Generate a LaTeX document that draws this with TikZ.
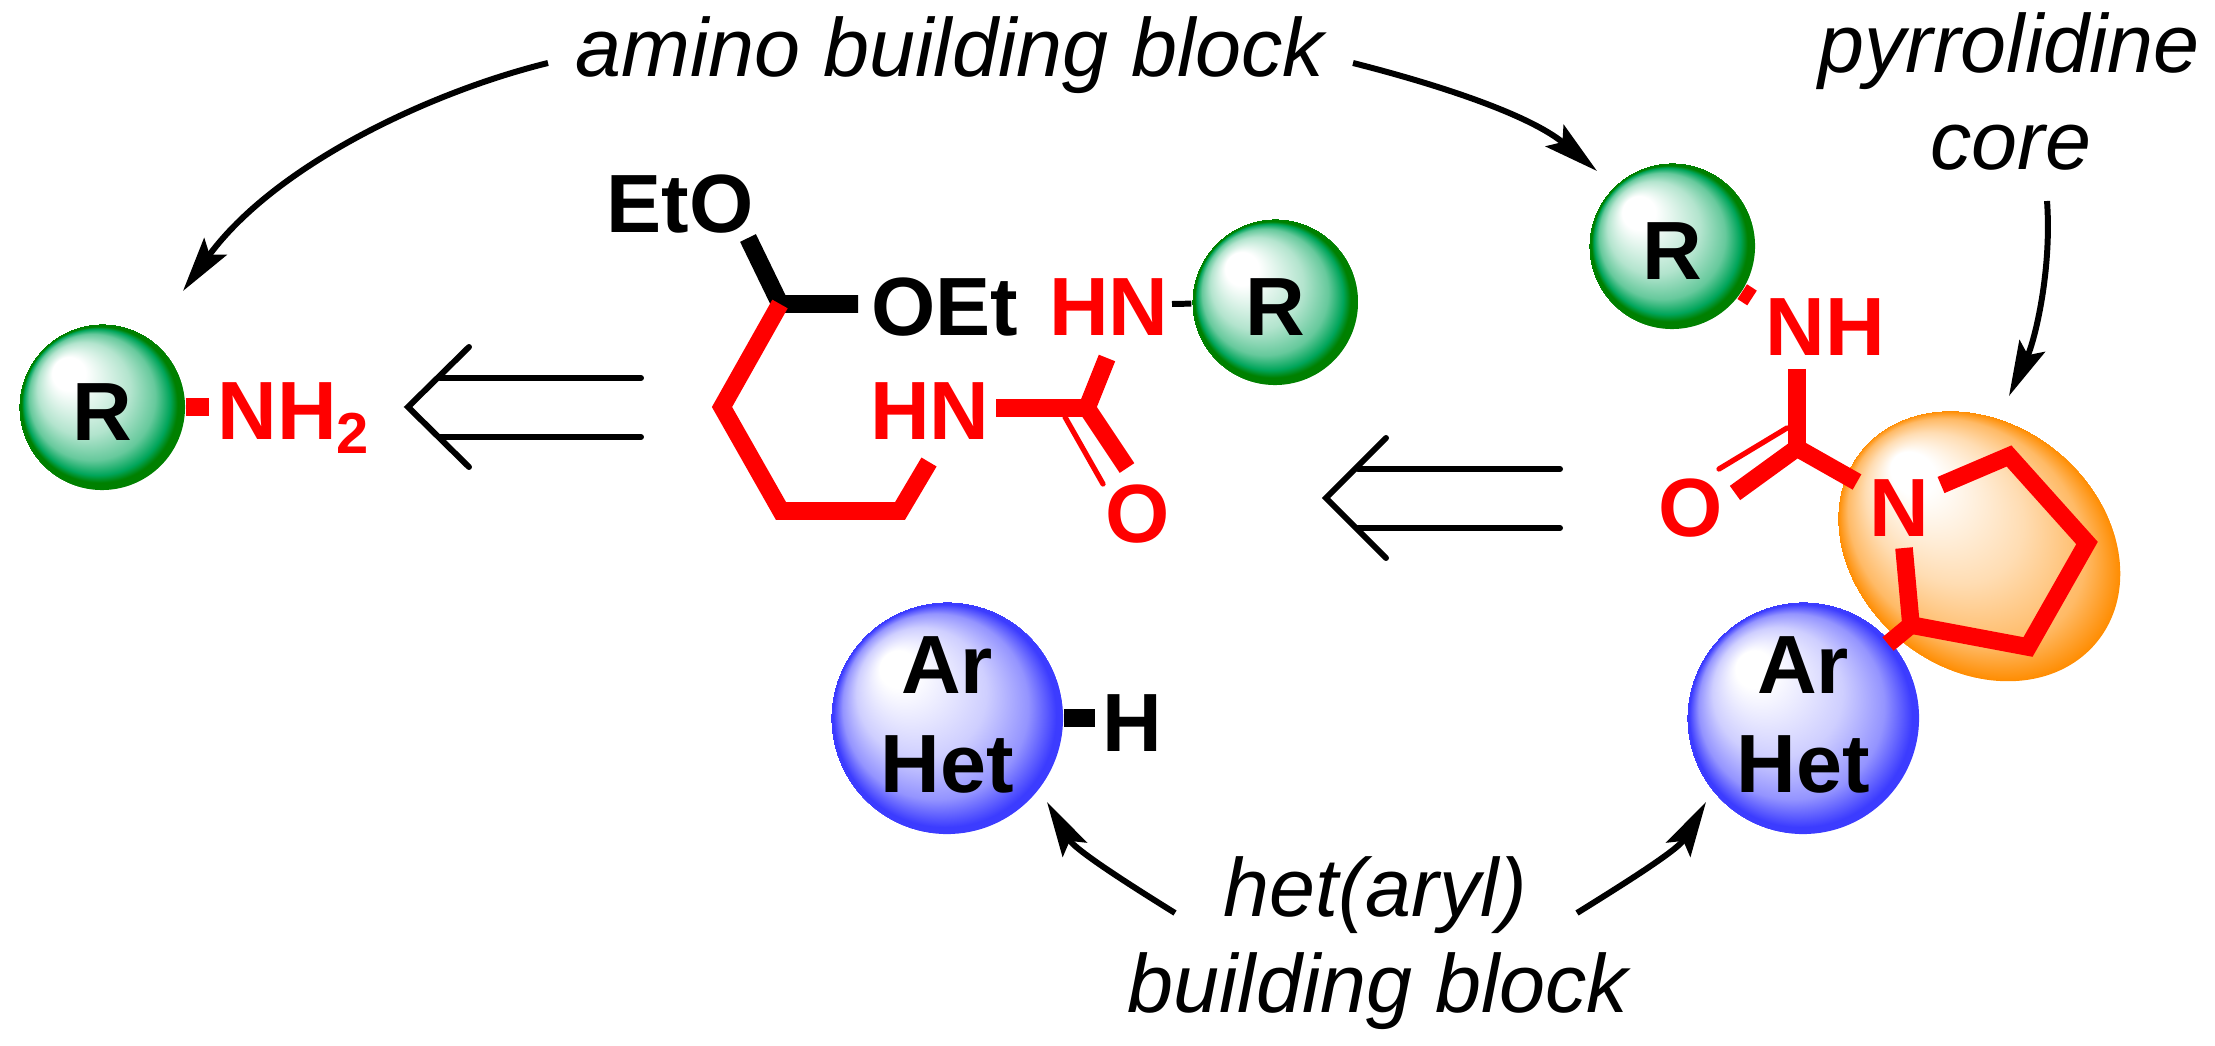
\documentclass[tikz,border=0pt]{standalone}
\usepackage{fontspec}
\setmainfont{Liberation Sans}
\usetikzlibrary{arrows.meta}
\definecolor{ringred}{RGB}{255,0,0}
\definecolor{rimgreen}{RGB}{0,128,0}
\definecolor{midgreen}{RGB}{0,165,90}
\definecolor{rimblue}{RGB}{60,60,255}
\definecolor{rimorange}{RGB}{255,140,0}
\pgfdeclareradialshading{greenball}{\pgfpoint{-12.5bp}{12.5bp}}{color(0bp)=(white);color(5bp)=(white);color(14bp)=(midgreen!30!white);color(19bp)=(midgreen!60!white);color(22bp)=(midgreen);color(23.5bp)=(rimgreen);color(25bp)=(rimgreen)}
\pgfdeclareradialshading{blueball}{\pgfpoint{-12.5bp}{12.5bp}}{color(0bp)=(white);color(4bp)=(white);color(14bp)=(rimblue!25!white);color(20bp)=(rimblue!55!white);color(24bp)=(rimblue);color(25bp)=(rimblue)}
\pgfdeclareradialshading{coreball}{\pgfpoint{-19bp}{3.6bp}}{color(0bp)=(white);color(4bp)=(white);color(14bp)=(rimorange!30!white);color(21bp)=(rimorange!60!white);color(25bp)=(rimorange)}
\tikzset{
  rball/.style={circle,draw=none,shading=greenball,minimum size=1.66cm,inner sep=0pt,font=\bfseries\fontsize{23.5}{28.2}\selectfont,text height=0.66cm,text depth=0pt},
  hetball/.style={circle,draw=none,shading=blueball,minimum size=2.32cm,inner sep=0pt,align=center,font=\bfseries\fontsize{23.5}{28.2}\selectfont,text depth=0.07cm},
  atom/.style={inner sep=0pt,anchor=base,font=\bfseries\fontsize{23.5}{28.2}\selectfont},
  redatom/.style={atom,text=ringred},
  lbl/.style={inner sep=0pt,anchor=base,font=\itshape\fontsize{23.5}{28.2}\selectfont},
  bond/.style={line width=5pt},
  redbond/.style={bond,ringred,line join=miter},
  thinbond/.style={ringred,line width=1.5pt,line cap=round},
  retro/.style={line width=1.7pt,line cap=round},
  curved/.style={line width=1.7pt,-{Stealth[length=5.5mm,width=2.8mm,inset=1mm]}}
}
\begin{document}
\begin{tikzpicture}[x=0.01cm,y=-0.01cm]
\useasboundingbox (0,0) rectangle (2215,1046);
% pyrrolidine core
\begin{scope}[transform canvas={rotate around={-39:(1979,546)}}]
\shade[shading=coreball] (1979,546) ellipse (152 and 123);
\end{scope}
% balls
\node[rball] (rone) at (102,407) {R};
\node[rball] (rtwo) at (1275,302) {R};
\node[rball] (rthree) at (1672,246) {R};
\node[hetball] (hetone) at (947,718) {Ar\\Het};
\node[hetball] (hettwo) at (1803,718) {Ar\\Het};
% labels
\node[lbl] (amino) at (950,77) {amino building block};
\node[lbl] (pyrr) at (2009,73) {pyrrolidine};
\node[lbl] (core) at (2011,170) {core};
\node[lbl] (hetaryl) at (1375,916) {het(aryl)};
\node[lbl] (build) at (1378,1012) {building block};
% atoms
\node[redatom] (nhtwo) at (294,440) {NH\textsubscript{2}};
\node[atom] (eto) at (680,233) {EtO};
\node[atom] (oet) at (945,336) {OEt};
\node[redatom] (hnup) at (1109,336) {HN};
\node[redatom] (hnlow) at (930,440) {HN};
\node[redatom] (oone) at (1138,542) {O};
\node[redatom] (nhright) at (1825,356) {NH};
\node[redatom] (otwo) at (1691,536) {O};
\node[redatom] (nring) at (1899,536) {N};
\node[atom] (hatom) at (1132,751) {H};
% retro arrows
\coordinate (retroatip) at (408,407);
\coordinate (retroaup) at (469,347);
\coordinate (retroadown) at (469,467);
\coordinate (retroaone) at (440,378);
\coordinate (retroatwo) at (440,437);
\coordinate (retroaoneend) at (641,378);
\coordinate (retroatwoend) at (641,437);
\draw[retro] (retroaup) -- (retroatip) -- (retroadown);
\draw[retro] (retroaone) -- (retroaoneend);
\draw[retro] (retroatwo) -- (retroatwoend);
\coordinate (retrobtip) at (1326,498);
\coordinate (retrobup) at (1386,438);
\coordinate (retrobdown) at (1386,558);
\coordinate (retrobone) at (1358,469);
\coordinate (retrobtwo) at (1358,528);
\coordinate (retroboneend) at (1560,469);
\coordinate (retrobtwoend) at (1560,528);
\draw[retro] (retrobup) -- (retrobtip) -- (retrobdown);
\draw[retro] (retrobone) -- (retroboneend);
\draw[retro] (retrobtwo) -- (retrobtwoend);
% open chain
\coordinate (acetal) at (780,304);
\coordinate (etoend) at (748,238);
\coordinate (oetend) at (858,304);
\coordinate (ctwo) at (722,407);
\coordinate (cthree) at (781,511);
\coordinate (cfour) at (900,511);
\coordinate (hnend) at (929,462);
\coordinate (urea) at (1087,408);
\coordinate (ureaw) at (996,408);
\coordinate (ureaup) at (1107,358);
\coordinate (ureaox) at (1127,468);
\coordinate (thina) at (1065,417);
\coordinate (thinb) at (1103,484);
\coordinate (thinr) at (1172,304);
\draw[bond] (etoend) -- (acetal) -- (oetend);
\draw[redbond] (acetal) -- (ctwo) -- (cthree) -- (cfour) -- (hnend);
\draw[redbond] (ureaw) -- (urea) -- (ureaup);
\draw[redbond] (urea) -- (ureaox);
\draw[thinbond] (thina) -- (thinb);
\draw[line width=1.7pt] (thinr) -- (rtwo);
% other bonds
\coordinate (nhtwoend) at (209,407);
\coordinate (hend) at (1095,718);
\draw[redbond] (rone) -- (nhtwoend);
\draw[bond] (hetone) -- (hend);
% right urea and ring
\coordinate (rthreeend) at (1752,298);
\coordinate (nhbelow) at (1797,369);
\coordinate (ureab) at (1797,448);
\coordinate (ureabox) at (1735,493);
\coordinate (ureabn) at (1857,482);
\coordinate (thinc) at (1787,428);
\coordinate (thind) at (1719,469);
\coordinate (ringa) at (1941,485);
\coordinate (ringb) at (2009,456);
\coordinate (ringc) at (2087,543);
\coordinate (ringd) at (2028,647);
\coordinate (ringe) at (1911,625);
\coordinate (ringf) at (1904,548);
\coordinate (hetbond) at (1888,644);
\draw[redbond] (rthree) -- (rthreeend);
\draw[redbond] (nhbelow) -- (ureab);
\draw[redbond] (ureabox) -- (ureab) -- (ureabn);
\draw[thinbond] (thinc) -- (thind);
\draw[redbond] (ringa) -- (ringb) -- (ringc) -- (ringd) -- (ringe) -- (ringf);
\draw[redbond] (ringe) -- (hetbond);
% curved arrows
\coordinate (aminol) at (548,63);
\coordinate (aminor) at (1353,63);
\coordinate (tipl) at (183,291);
\coordinate (tipr) at (1597,171);
\coordinate (corestart) at (2047,201);
\coordinate (coretip) at (2009,396);
\coordinate (hetl) at (1175,913);
\coordinate (hetr) at (1577,913);
\coordinate (hettipl) at (1047,802);
\coordinate (hettipr) at (1706,802);
\draw[curved] (aminol) .. controls (430,92) and (275,165) .. (tipl);
\draw[curved] (aminor) .. controls (1440,85) and (1530,115) .. (tipr);
\draw[curved] (corestart) .. controls (2052,270) and (2035,340) .. (coretip);
\draw[curved] (hetl) .. controls (1130,885) and (1075,850) .. (hettipl);
\draw[curved] (hetr) .. controls (1622,885) and (1678,850) .. (hettipr);
\end{tikzpicture}
\end{document}
